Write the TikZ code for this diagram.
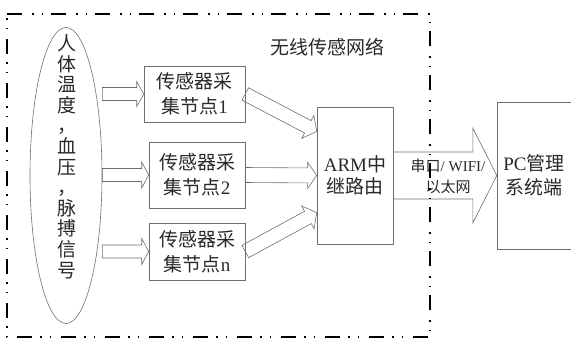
\documentclass[tikz,border=0pt]{standalone}
\usepackage{fontspec}
\setmainfont{Liberation Serif}
\newfontfamily\cjk{Noto Sans CJK SC}
\usetikzlibrary{calc,shapes.geometric}
\definecolor{linegray}{RGB}{110,110,110}
\definecolor{textgray}{RGB}{40,40,40}
% hollow arrow: from, to, shaft half width, head half width, head length
\newcommand{\hollowarrow}[5]{%
  \coordinate (hb) at ($(#2)!#5!(#1)$);
  \draw[fatarrow] ($(#1)!#3!90:(#2)$) -- ($(hb)!#3!90:(#2)$) -- ($(hb)!#4!90:(#2)$)
    -- (#2) -- ($(hb)!#4!-90:(#2)$) -- ($(hb)!#3!-90:(#2)$) -- ($(#1)!#3!-90:(#2)$) -- cycle;
}

\begin{document}
\begin{tikzpicture}[
  x=1pt, y=-1pt,
  every node/.style={text=textgray},
  nodebox/.style={draw=linegray,line width=0.6pt,inner sep=0pt,align=center,
                  font=\cjk\fontsize{19}{25}\selectfont},
  fatarrow/.style={draw=linegray,line width=0.6pt,line join=miter},
  border/.style={line width=2pt,
                 dash pattern=on 15pt off 10pt on 1.5pt off 8pt on 1.5pt off 8pt},
]
  \useasboundingbox (0,0) rectangle (571,340);

  % Signal source
  \node[draw=linegray,line width=0.6pt,ellipse,minimum width=72pt,minimum height=296pt,
        inner sep=0pt] (src) at (66,175.5) {};
  \node[align=center,font=\cjk\fontsize{19}{20.6}\selectfont] (srctxt) at (67,156.5)
    {人\\体\\温\\度\\，\\血\\压\\，\\脉\\搏\\信\\号};

  % Sensor nodes
  \node[nodebox,minimum width=101pt,minimum height=56pt] (s1) at (194.5,94)
    {传感器采\\集节点{\rmfamily 1}};
  \node[nodebox,minimum width=96pt,minimum height=66pt] (s2) at (197,175)
    {传感器采\\集节点{\rmfamily 2}};
  \node[nodebox,minimum width=96pt,minimum height=57pt] (s3) at (197,251.5)
    {传感器采\\集节点{\rmfamily n}};

  % ARM router
  \node[nodebox,minimum width=76pt,minimum height=137pt,
        font=\cjk\fontsize{19}{22}\selectfont] (arm) at (355,175.5)
    {{\rmfamily ARM}中\\继路由};

  % PC
  \node[minimum width=74pt,minimum height=147pt,inner sep=0pt,align=center,
        font=\cjk\fontsize{19}{24}\selectfont] (pc) at (534,175.5)
    {{\rmfamily PC}管理\\系统端};
  \draw[linegray,line width=0.6pt] (pc.north east) -- (pc.north west) -- (pc.south west) -- (pc.south east);

  % Label
  \node[font=\cjk\fontsize{19}{22}\selectfont] (net) at (327,47) {无线传感网络};

  % Source to sensor nodes
  \coordinate (t1) at (src.east |- s1.west);
  \coordinate (t2) at (src.east |- s2.west);
  \coordinate (t3) at (src.east |- s3.west);
  \hollowarrow{t1}{s1.west}{6.5pt}{12.5pt}{7pt}
  \hollowarrow{t2}{s2.west}{6.5pt}{13pt}{7pt}
  \hollowarrow{t3}{s3.west}{6.5pt}{13pt}{7pt}

  % Sensor nodes to router
  \coordinate (a1) at ($(arm.north west)!0.18!(arm.south west)$);
  \coordinate (a3) at ($(arm.north west)!0.77!(arm.south west)$);
  \hollowarrow{s1.east}{a1}{7pt}{13pt}{10pt}
  \hollowarrow{s2.east}{arm.west}{7.5pt}{13pt}{9pt}
  \hollowarrow{s3.east}{a3}{7pt}{13pt}{10pt}

  % Router to PC
  \hollowarrow{arm.east}{pc.west}{23.5pt}{47.5pt}{24pt}
  \node[align=center,font=\cjk\fontsize{15}{21}\selectfont] (link) at (448,176.5)
    {串口{\rmfamily / WIFI/}\\以太网};

  % Wireless network boundary
  \draw[border] (7,14) -- (430,14) -- (430,337) -- (7,337) -- cycle;
\end{tikzpicture}
\end{document}
